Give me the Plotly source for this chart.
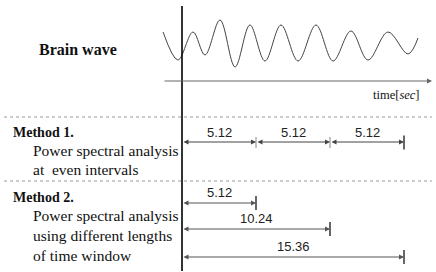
import plotly.graph_objects as go

# ---------------- data ----------------
method1_starts = [0.0, 5.12, 10.24]     # even intervals (sec)
method1_ends = [5.12, 10.24, 15.36]
method1_labels = ["5.12", "5.12", "5.12"]
method2_ends = [5.12, 10.24, 15.36]     # growing windows from t=0 (sec)
method2_labels = ["5.12", "10.24", "15.36"]

# brain wave extrema (time in sec, vertical position in rows)
wave_t = [-1.31, -0.28, 0.76, 1.59, 2.63, 3.67, 4.70, 5.74, 6.85, 8.03,
          9.27, 10.45, 11.69, 12.87, 14.25, 15.64, 16.33]
wave_y = [32, 60, 32, 55, 20, 67, 25, 61, 25, 61, 25, 61, 31, 60, 32, 54, 38]

# ---------------- layout helpers ----------------
W, H = 436, 272
x0_px = 182
px_per_sec = 74 / 5.12
xr = [-x0_px / px_per_sec, (W - x0_px) / px_per_sec]
def sec(px):
    return (px - x0_px) / px_per_sec

SERIF = "Liberation Serif"
SANS = "Liberation Sans"

fig = go.Figure()
fig.add_trace(go.Scatter(x=wave_t, y=wave_y, mode="lines",
                         line=dict(color="#444", width=1, shape="spline", smoothing=1.0),
                         hoverinfo="skip", showlegend=False))

shapes = []
annotations = []

# main vertical line at t = 0
shapes.append(dict(type="line", x0=0, x1=0, y0=6, y1=271, xref="x", yref="y",
                   line=dict(color="black", width=1.6)))
# dashed separators
for yy in [117, 181]:
    shapes.append(dict(type="line", x0=sec(4), x1=sec(432), y0=yy, y1=yy,
                       line=dict(color="#999", width=1, dash="dot")))

# time axis arrow
annotations.append(dict(x=sec(432), y=81, ax=sec(163), ay=81, xref="x", yref="y",
                        axref="x", ayref="y", text="", showarrow=True,
                        arrowhead=2, arrowsize=1, arrowwidth=1, arrowcolor="#666"))
annotations.append(dict(x=sec(422), y=95, text="time[<i>sec</i>]", showarrow=False,
                        xanchor="right", yanchor="middle",
                        font=dict(family=SERIF, size=12.5, color="#111")))

annotations.append(dict(x=sec(77.5), y=49, text="<b>Brain wave</b>", showarrow=False,
                        xanchor="center", yanchor="middle",
                        font=dict(family=SERIF, size=16, color="#111")))

def add_arrow(xs, xe, yy, color="#444"):
    annotations.append(dict(x=xe, y=yy, ax=xs, ay=yy, xref="x", yref="y",
                            axref="x", ayref="y", text="", showarrow=True,
                            arrowhead=2, startarrowhead=2, arrowside="end+start",
                            arrowsize=1, startarrowsize=1, arrowwidth=1,
                            arrowcolor=color))

def add_tick(xx, yy, half, color):
    shapes.append(dict(type="line", x0=xx, x1=xx, y0=yy - half, y1=yy + half,
                       line=dict(color=color, width=1.2)))

def add_num(xx, yy, txt):
    annotations.append(dict(x=xx, y=yy, text=txt, showarrow=False,
                            xanchor="center", yanchor="middle",
                            font=dict(family=SANS, size=13, color="#222")))

# Method 1
y1 = 142
for s, e, lab in zip(method1_starts, method1_ends, method1_labels):
    add_arrow(s, e, y1, "#444")
    add_num((s + e) / 2, y1 - 10, lab)
for i, e in enumerate(method1_ends):
    if i < len(method1_ends) - 1:
        add_tick(e, y1 + 0.5, 5.5, "#999")
    else:
        add_tick(e, y1 + 0.5, 7, "black")

# Method 2
y2 = [203, 229, 257]
for e, lab, yy in zip(method2_ends, method2_labels, y2):
    add_arrow(0, e, yy, "#555")
    add_tick(e, yy, 7, "black")
    add_num(e / 2, yy - 10.5, lab)

# left text
def add_text(px, yy, txt, size=15.5, bold=False):
    t = f"<b>{txt}</b>" if bold else txt
    annotations.append(dict(x=sec(px), y=yy, text=t, showarrow=False,
                            xanchor="left", yanchor="middle",
                            font=dict(family=SERIF, size=size, color="#111")))

add_text(11, 132, "Method 1.", 14, True)
add_text(31, 150, "Power spectral analysis")
add_text(31, 169, "at\u00a0 even intervals")
add_text(11, 197, "Method 2.", 14, True)
add_text(31, 215, "Power spectral analysis")
add_text(31, 235, "using different lengths")
add_text(31, 255, "of time window")

fig.update_layout(
    width=W, height=H, margin=dict(l=0, r=0, t=0, b=0),
    paper_bgcolor="white", plot_bgcolor="white",
    xaxis=dict(range=xr, visible=False, fixedrange=True),
    yaxis=dict(range=[H, 0], visible=False, fixedrange=True),
    shapes=shapes, annotations=annotations, showlegend=False,
)
fig.write_html("out.html", config={"displayModeBar": False},
               post_script="document.body.style.margin='0';document.body.style.overflow='hidden';")
